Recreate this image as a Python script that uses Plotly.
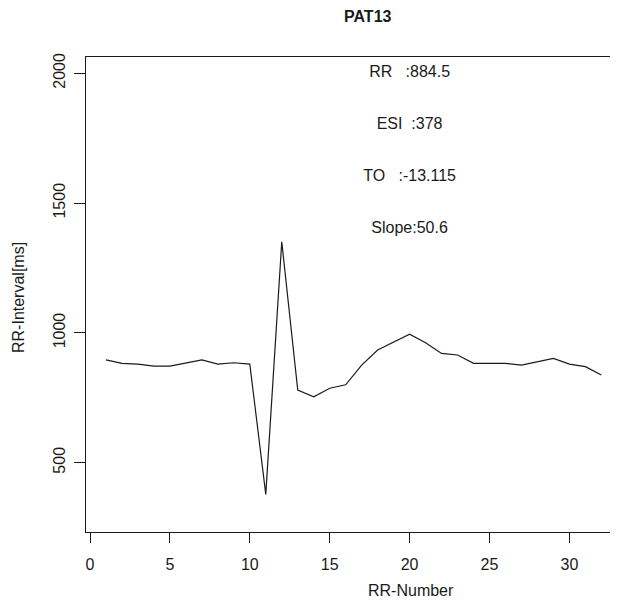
import plotly.graph_objects as go

rr_number = list(range(1, 33))
rr_interval = [896, 883, 880, 872, 872, 885, 896, 880, 885, 880,
               378, 1351, 780, 754, 787, 800, 876, 934, 966, 995,
               962, 921, 915, 883, 883, 883, 876, 889, 902, 880,
               870, 838]

x_ticks = [0, 5, 10, 15, 20, 25, 30]
y_ticks = [500, 1000, 1500, 2000]

NB = "\u00a0"
stat_names = ["RR", "ESI", "TO", "Slope"]
stat_values = [":884.5", ":378", ":-13.115", ":50.6"]
stat_labels = [n + NB * (5 - len(n)) + v for n, v in zip(stat_names, stat_values)]
stat_x = [20, 20, 20, 20]
stat_y = [2000, 1800, 1600, 1400]

font_family = "Liberation Sans, Arial, sans-serif"
ink = "#1a1a1a"

W, H = 610, 604
ML, MR, MT, MB = 78, 0, 49, 80
PW, PH = W - ML - MR, H - MT - MB


def px_to_paper_x(px):
    return (px - ML) / PW


def px_to_paper_y(py):
    return 1 - (py - MT) / PH


fig = go.Figure()
fig.add_trace(go.Scatter(
    x=rr_number, y=rr_interval, mode="lines",
    line=dict(color=ink, width=1.2),
    showlegend=False, hoverinfo="skip",
))
fig.add_trace(go.Scatter(
    x=stat_x, y=stat_y, mode="text", text=stat_labels,
    textposition="middle center",
    textfont=dict(family=font_family, size=16, color=ink),
    showlegend=False, hoverinfo="skip",
))

fig.update_layout(
    width=W, height=H,
    margin=dict(l=ML, r=MR, t=MT, b=MB),
    paper_bgcolor="white", plot_bgcolor="white",
    font=dict(family=font_family, size=16, color=ink),
    xaxis=dict(
        range=[-0.25, 33.04], tickmode="array", tickvals=x_ticks,
        ticks="outside", ticklen=10, tickcolor=ink, tickwidth=1,
        showline=True, linecolor=ink, linewidth=1, mirror=True,
        showgrid=False, zeroline=False,
        tickfont=dict(size=16), ticklabelstandoff=8,
    ),
    yaxis=dict(
        range=[233, 2063], tickmode="array", tickvals=y_ticks,
        ticks="outside", ticklen=11, tickcolor=ink, tickwidth=1,
        showline=True, linecolor=ink, linewidth=1, mirror=False,
        showgrid=False, zeroline=False, tickangle=-90,
        tickfont=dict(size=16), ticklabelstandoff=3,
    ),
    annotations=[
        dict(text="<b>PAT13</b>", xref="paper", yref="paper",
             x=px_to_paper_x(360), y=px_to_paper_y(9),
             xanchor="center", yanchor="middle", showarrow=False,
             font=dict(size=16, family=font_family, color=ink)),
        dict(text="RR-Number", xref="paper", yref="paper",
             x=px_to_paper_x(403), y=px_to_paper_y(582),
             xanchor="center", yanchor="middle", showarrow=False,
             font=dict(size=16, family=font_family, color=ink)),
        dict(text="RR-Interval[ms]", xref="paper", yref="paper",
             x=px_to_paper_x(10), y=px_to_paper_y(290),
             xanchor="center", yanchor="middle", showarrow=False,
             textangle=-90,
             font=dict(size=16, family=font_family, color=ink)),
    ],
)

fig.write_html("out.html")
